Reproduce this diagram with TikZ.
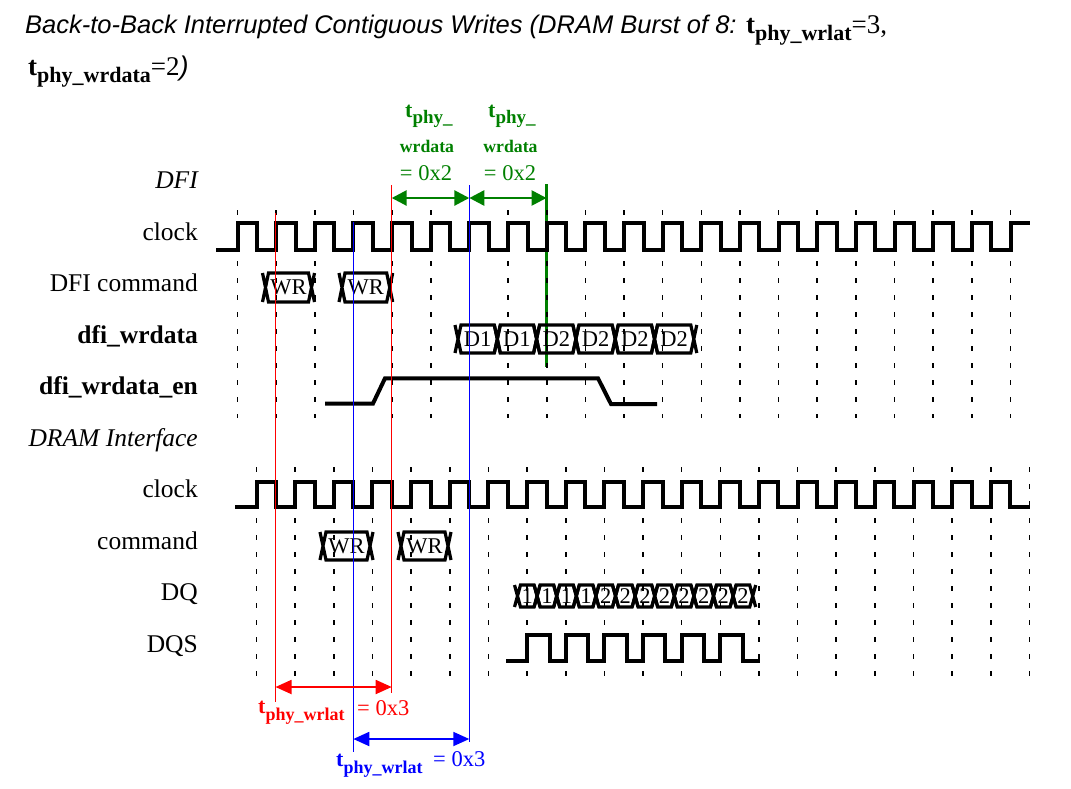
\documentclass[tikz,border=0pt]{standalone}
\usepackage{fontspec}
\setmainfont{Liberation Serif}
\setsansfont{Liberation Sans}
\usetikzlibrary{arrows.meta}
\definecolor{tgreen}{RGB}{0,128,0}
\tikzstyle{clk} = [line width=4pt]
\tikzstyle{gridline} = [line width=1.6pt, dash pattern=on 5pt off 12pt]
\tikzstyle{bus} = [line width=3.2pt]
\tikzstyle{celltext} = [inner sep=0pt, font=\fontsize{22.5}{25}\selectfont]
\tikzstyle{rowlabel} = [anchor=base east, inner sep=0pt, font=\fontsize{25.5}{30}\selectfont]
\tikzstyle{wren} = [line width=4pt]
\tikzstyle{redline} = [red, line width=1.3pt]
\tikzstyle{blueline} = [blue, line width=1.3pt]
\tikzstyle{greenline} = [tgreen, line width=3pt]
\tikzstyle{redarrow} = [red, line width=1.8pt, {Triangle[length=16pt,width=14pt]}-{Triangle[length=16pt,width=14pt]}]
\tikzstyle{bluearrow} = [blue, line width=1.8pt, {Triangle[length=16pt,width=14pt]}-{Triangle[length=16pt,width=14pt]}]
\tikzstyle{greenarrow} = [tgreen, line width=2.7pt, {Triangle[length=15pt,width=15pt]}-{Triangle[length=15pt,width=15pt]}]
\tikzstyle{dimtext} = [anchor=base west, inner sep=0pt]
\newcommand\tphy[4]{{\fontsize{#1}{#1}\selectfont\bfseries t}\raisebox{-#4}{\fontsize{#2}{#2}\selectfont\bfseries #3}}
\newcommand\buscell[6]{%
  \draw[bus] ({#2-3},{#4-#5}) -- ({#2+3},{#4+#5}) -- ({#3-3},{#4+#5}) -- ({#3+3},{#4-#5})
             ({#2-3},{#4+#5}) -- ({#2+3},{#4-#5}) -- ({#3-3},{#4-#5}) -- ({#3+3},{#4+#5});
  \node[celltext] (#1) at ({(#2+#3)/2},#4) {#6};}

\begin{document}
\begin{tikzpicture}[x=1pt,y=-1pt]
	\useasboundingbox (0,0) rectangle (1071,788);
	\node[anchor=base west, inner sep=0pt] (title1) at (25,33) {\fontsize{25.5}{30}\selectfont\sffamily\itshape Back-to-Back Interrupted Contiguous Writes (DRAM Burst of 8: \upshape\rmfamily\tphy{27}{22}{phy\_wrlat}{7pt}\fontsize{27}{30}\selectfont=3,};
	\node[anchor=base west, inner sep=0pt] (title2) at (28,75) {\rmfamily\tphy{27}{22}{phy\_wrdata}{7pt}\fontsize{27}{30}\selectfont=2\sffamily\itshape)};
	\node[rowlabel] (lbldfi) at (198,188.5) {\itshape DFI};
	\node[rowlabel] (lblclk) at (198,240) {clock};
	\node[rowlabel] (lblcmd) at (198,291.5) {DFI command};
	\node[rowlabel] (lblwd) at (198,343) {\bfseries dfi\_wrdata};
	\node[rowlabel] (lblen) at (198,394.5) {\bfseries dfi\_wrdata\_en};
	\node[rowlabel] (lbldram) at (198,446) {\itshape DRAM Interface};
	\node[rowlabel] (lbldclk) at (198,497.5) {clock};
	\node[rowlabel] (lbldcmd) at (198,549) {command};
	\node[rowlabel] (lbldq) at (198,600.5) {DQ};
	\node[rowlabel] (lbldqs) at (198,652) {DQS};
	\draw[greenline] (546.5,184) -- (546.5,367);
	\foreach \k in {0,...,20}
		\draw[gridline] ({237.5+38.65*\k},210) -- ({237.5+38.65*\k},418);
	\foreach \k in {0,...,20}
		\draw[gridline] ({256.5+38.65*\k},467) -- ({256.5+38.65*\k},676);
	\draw[clk] (216,250) \foreach \k in {0,...,19} { -- ({237.5+38.65*\k},250) -- ({237.5+38.65*\k},223) -- ({257+38.65*\k},223) -- ({257+38.65*\k},250) } -- (1010.5,250) -- (1010.5,223) -- (1030,223);
	\draw[clk] (235,507) \foreach \k in {0,...,19} { -- ({256.5+38.65*\k},507) -- ({256.5+38.65*\k},482) -- ({276+38.65*\k},482) -- ({276+38.65*\k},507) } -- (1030,507);
	\draw[clk] (506,661) \foreach \k in {0,...,5} { -- ({527+38.65*\k},661) -- ({527+38.65*\k},635) -- ({549.5+38.65*\k},635) -- ({549.5+38.65*\k},661) } -- (760,661);
	\buscell{cwr1}{265.5}{311.5}{287.5}{14.5}{WR}
	\buscell{cwr2}{342}{389.7}{287.5}{14.5}{WR}
	\foreach \t [count=\i from 0] in {D1,D1,D2,D2,D2,D2}
		{\buscell{wd\i}{458+39.3*\i}{497.3+39.3*\i}{339}{14}{\t}}
	\draw[wren] (325,403.5) -- (373,403.5) -- (385,378.3) -- (598,378.3) -- (611,404) -- (657,404);
	\buscell{dwr1}{323}{370}{546}{14}{WR}
	\buscell{dwr2}{401}{448}{546}{14}{WR}
	\foreach \t [count=\i from 0] in {1,1,1,1,2,2,2,2,2,2,2,2}
		{\buscell{dq\i}{517.5+19.6*\i}{537.1+19.6*\i}{596}{11}{\t}}
	\draw[redline] (275.5,213) -- (275.5,702);
	\draw[redline] (391.7,185) -- (391.7,693);
	\draw[blueline] (353.3,222) -- (353.3,752);
	\draw[blueline] (469.3,185) -- (469.3,742);
	\coordinate (ga) at (391.7,198);
	\coordinate (gb) at (469.3,198);
	\coordinate (gc) at (546.5,198);
	\draw[greenarrow] (ga) -- (gb);
	\draw[greenarrow] (gb) -- (gc);
	\coordinate (ra) at (275.5,687);
	\coordinate (rb) at (391.7,687);
	\draw[redarrow] (ra) -- (rb);
	\coordinate (ba) at (353.3,739);
	\coordinate (bb) at (469.3,739);
	\draw[bluearrow] (ba) -- (bb);
	\node[dimtext, tgreen] (gt1) at (405,117) {\tphy{22}{19}{phy\_}{6pt}};
	\node[inner sep=0pt, anchor=base, tgreen, font=\fontsize{17.7}{20}\selectfont\bfseries] (gw1) at (427,152) {wrdata};
	\node[inner sep=0pt, anchor=base, tgreen, font=\fontsize{22.5}{25}\selectfont] (gv1) at (426,180) {= 0x2};
	\node[dimtext, tgreen] (gt2) at (488,117) {\tphy{22}{19}{phy\_}{6pt}};
	\node[inner sep=0pt, anchor=base, tgreen, font=\fontsize{17.7}{20}\selectfont\bfseries] (gw2) at (510.5,152) {wrdata};
	\node[inner sep=0pt, anchor=base, tgreen, font=\fontsize{22.5}{25}\selectfont] (gv2) at (510,180) {= 0x2};
	\node[dimtext, red] (rlat) at (258,713) {\tphy{22}{18}{phy\_wrlat}{7pt}};
	\node[dimtext, red, font=\fontsize{22.5}{25}\selectfont] (rval) at (357,715) {= 0x3};
	\node[dimtext, blue] (blat) at (336,766) {\tphy{22}{18}{phy\_wrlat}{7pt}};
	\node[dimtext, blue, font=\fontsize{22.5}{25}\selectfont] (bval) at (433,766) {= 0x3};
\end{tikzpicture}
\end{document}
